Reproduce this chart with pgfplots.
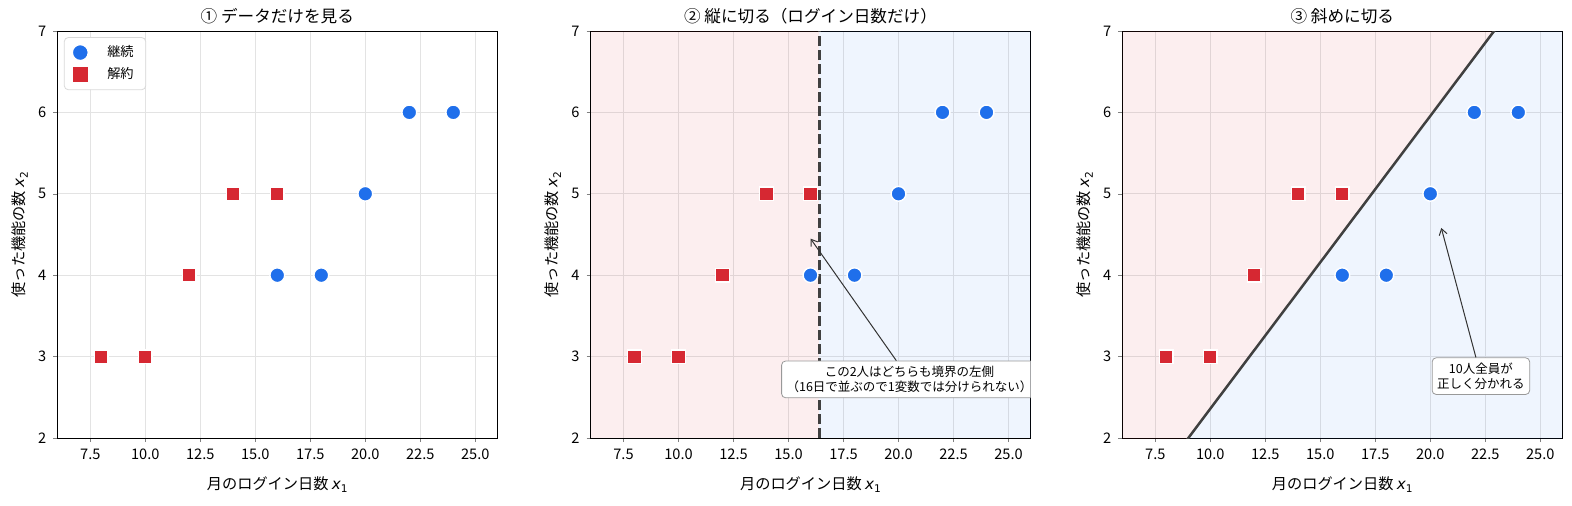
\documentclass[border=0pt]{standalone}
\usepackage{fontspec}
\setmainfont{Noto Sans CJK JP}
\newfontfamily\djv{DejaVu Sans}
\usepackage{pgfplots}
\pgfplotsset{compat=1.18}
\usepackage{pgfplotstable}
\usetikzlibrary{arrows.meta}

\definecolor{keep}{HTML}{1F6FEB}
\definecolor{churn}{HTML}{D62832}
\definecolor{edge}{HTML}{404040}

% italic x with subscript, like matplotlib mathtext
\newcommand{\xsub}[1]{{\djv\itshape x}\raisebox{-0.45ex}{\djv\fontsize{5.3}{6}\selectfont #1}}

% 継続 (continued)
\pgfplotstableread{
x y
16 4
18 4
20 5
22 6
24 6
}\keeptab
% 解約 (cancelled)
\pgfplotstableread{
x y
8 3
10 3
12 4
14 5
16 5
}\churntab

\pgfplotsset{
  panel/.style={
    scale only axis, width=220pt, height=203.5pt,
    xmin=6, xmax=26, ymin=2, ymax=7,
    xtick={7.5,10,...,25}, ytick={2,...,7},
    x tick label style={/pgf/number format/.cd, fixed, fixed zerofill, precision=1, /tikz/.cd},
    /pgf/number format/assume math mode=true,
    tick label style={font=\fontsize{7.3}{8}\selectfont},
    tick align=outside, tick pos=left, major tick length=2pt,
    grid=major, major grid style={black!11, line width=0.4pt},
    axis line style={line width=0.5pt},
    every axis x label/.style={at={(axis description cs:0.5,0)}, anchor=north, yshift=-19pt, inner sep=0pt},
    every axis y label/.style={at={(axis description cs:0,0.5)}, xshift=-14.5pt, rotate=90, anchor=south, inner sep=0pt},
    every axis title/.style={at={(axis description cs:0.5,1)}, anchor=south, yshift=3.5pt, inner sep=0pt},
    label style={font=\fontsize{7.6}{9}\selectfont},
    title style={font=\fontsize{8.3}{10}\selectfont},
    xlabel={月のログイン日数 \xsub{1}},
    ylabel={使った機能の数 \xsub{2}},
  },
  keepmark/.style={only marks, mark=*, mark size=3.7pt, mark options={fill=keep, draw=white, line width=0.7pt}},
  churnmark/.style={only marks, mark=square*, mark size=3.4pt, mark options={fill=churn, draw=white, line width=0.7pt}},
}
\tikzset{
  note/.style={draw=black!40, fill=white, rounded corners=2pt, align=center, font=\fontsize{6.25}{7.5}\selectfont, inner sep=2.5pt},
  pointer/.style={-{Straight Barb[length=3pt,width=4pt]}, line width=0.5pt, black!80},
}

\begin{document}
\begin{tikzpicture}
% panel 1
\begin{axis}[panel, at={(0pt,0pt)}, title={① データだけを見る},
  legend style={at={(0.015,0.985)}, anchor=north west, draw=black!15, rounded corners=2pt,
    font=\fontsize{6.6}{8}\selectfont, inner ysep=2pt, inner xsep=4pt, row sep=0pt,
    /tikz/every odd column/.append style={column sep=7.5pt}},
  legend image post style={mark size=4pt},
  legend cell align=left]
\addplot[keepmark] table {\keeptab};
\addplot[churnmark] table {\churntab};
\legend{継続,解約}
\end{axis}

% panel 2
\begin{axis}[panel, at={(266.6pt,0pt)}, title={② 縦に切る（ログイン日数だけ）}]
\addplot[draw=none, fill=churn, fill opacity=0.08] coordinates {(6,2) (16.4,2) (16.4,7) (6,7)} -- cycle;
\addplot[draw=none, fill=keep, fill opacity=0.07] coordinates {(16.4,2) (26,2) (26,7) (16.4,7)} -- cycle;
\addplot[edge, line width=1.25pt, dash pattern=on 5pt off 2pt] coordinates {(16.4,2) (16.4,7)};
\addplot[keepmark] table {\keeptab};
\addplot[churnmark] table {\churntab};
\node[note] (n2) at (axis cs:20.5,2.72) {この2人はどちらも境界の左側\\（16日で並ぶので1変数では分けられない）};
\draw[pointer] (n2) -- (axis cs:16,4.45);
\end{axis}

% panel 3
\begin{axis}[panel, at={(532.5pt,0pt)}, title={③ 斜めに切る}]
\addplot[draw=none, fill=churn, fill opacity=0.08] coordinates {(6,0.921) (26,8.115) (26,8.2) (6,8.2)} -- cycle;
\addplot[draw=none, fill=keep, fill opacity=0.07] coordinates {(6,0.921) (26,8.115) (26,0.5) (6,0.5)} -- cycle;
\addplot[edge, line width=1.25pt] coordinates {(6,0.921) (26,8.115)};
\addplot[keepmark] table {\keeptab};
\addplot[churnmark] table {\churntab};
\node[note] (n3) at (axis cs:22.3,2.76) {10人全員が\\正しく分かれる};
\draw[pointer] (n3) -- (axis cs:20.5,4.58);
\end{axis}

\pgfresetboundingbox
\path (-28.65pt,-33.5pt) rectangle (757.35pt,219pt);
\end{tikzpicture}
\end{document}
